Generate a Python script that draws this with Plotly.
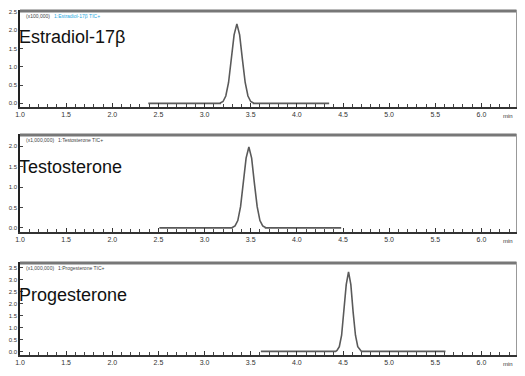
import plotly.graph_objects as go

# ---- data ----
x_ticks = [1.0, 1.5, 2.0, 2.5, 3.0, 3.5, 4.0, 4.5, 5.0, 5.5, 6.0]
x_tick_labels = ["1.0", "1.5", "2.0", "2.5", "3.0", "3.5", "4.0", "4.5", "5.0", "5.5", "6.0"]

e2_rt = [2.39, 3.17, 3.17, 3.20, 3.23, 3.26, 3.29, 3.32, 3.35, 3.38, 3.41, 3.44, 3.47, 3.50, 3.53, 3.53, 4.35]
e2_int = [0.0, 0.0, 0.01, 0.05, 0.20, 0.57, 1.20, 1.87, 2.17, 1.87, 1.20, 0.57, 0.20, 0.05, 0.01, 0.0, 0.0]

t_rt = [2.51, 3.30, 3.30, 3.33, 3.36, 3.39, 3.42, 3.45, 3.48, 3.51, 3.54, 3.57, 3.60, 3.63, 3.66, 3.66, 4.48]
t_int = [0.0, 0.0, 0.01, 0.05, 0.18, 0.52, 1.09, 1.71, 1.98, 1.71, 1.09, 0.52, 0.18, 0.05, 0.01, 0.0, 0.0]

p_rt = [3.61, 4.42, 4.435, 4.46, 4.485, 4.51, 4.535, 4.56, 4.585, 4.61, 4.635, 4.66, 4.685, 4.70, 5.61]
p_int = [0.0, 0.0, 0.04, 0.20, 0.68, 1.64, 2.80, 3.34, 2.80, 1.64, 0.68, 0.20, 0.04, 0.0, 0.0]

names = ["Estradiol-17β", "Testosterone", "Progesterone"]
headers = ["1:Estradiol-17β TIC+", "1:Testosterone TIC+", "1:Progesterone TIC+"]
scales = ["(x100,000)", "(x1,000,000)", "(x1,000,000)"]
y_ticks = [
    [0.0, 0.5, 1.0, 1.5, 2.0, 2.5],
    [0.0, 0.5, 1.0, 1.5, 2.0],
    [0.0, 0.5, 1.0, 1.5, 2.0, 2.5, 3.0, 3.5],
]

# page body has an 8px margin: lay the figure out in window pixels minus that offset
OFF = 8
W, H = 525 - 2 * OFF, 376 - 2 * OFF
def px(p):
    return (p - OFF) / W
def py(p):
    return 1 - (p - OFF) / H

panels = [(10, 107), (134, 232), (262, 355)]
y_ranges = [[-0.1, 2.55], [-0.1, 2.3], [-0.15, 3.75]]
x_dom = [px(20), px(516.5)]

fig = go.Figure()
series = [(e2_rt, e2_int), (t_rt, t_int), (p_rt, p_int)]
for i, (xs, ys) in enumerate(series):
    sfx = "" if i == 0 else str(i + 1)
    fig.add_trace(go.Scatter(x=xs, y=ys, mode="lines",
                             line=dict(color="#5a5a5a", width=1.6),
                             xaxis="x" + sfx, yaxis="y" + sfx, showlegend=False))

layout = dict(width=W, height=H, margin=dict(l=0, r=0, t=0, b=0, autoexpand=False),
              paper_bgcolor="white", plot_bgcolor="white",
              font=dict(family="Liberation Sans", color="#333"))
shapes = []
annotations = []
for i, (top, bot) in enumerate(panels):
    sfx = "" if i == 0 else str(i + 1)
    layout["xaxis" + sfx] = dict(
        domain=x_dom, anchor="y" + sfx, range=[1.0, 6.38], automargin=False,
        tickvals=x_ticks, ticktext=x_tick_labels,
        tickfont=dict(size=7, color="#333"),
        ticks="inside", ticklen=4, tickcolor="#333",
        minor=dict(dtick=0.1, tick0=1.0, ticks="inside", ticklen=3, tickcolor="#444"),
        showline=True, linecolor="#333", linewidth=1.5,
        showgrid=False, zeroline=False, fixedrange=True)
    layout["yaxis" + sfx] = dict(
        domain=[py(bot), py(top)], anchor="x" + sfx, range=y_ranges[i], automargin=False,
        tickvals=y_ticks[i], ticktext=[f"{v:.1f}" for v in y_ticks[i]],
        tickfont=dict(size=6, color="#333"),
        ticks="inside", ticklen=3, tickcolor="#444",
        showline=True, linecolor="#222", linewidth=1.5,
        showgrid=False, zeroline=False, fixedrange=True)
    # frame: thick gray top, thin right
    shapes.append(dict(type="line", xref="paper", yref="paper",
                       x0=x_dom[0], x1=x_dom[1], y0=py(top + 1), y1=py(top + 1),
                       line=dict(color="#777", width=3)))
    shapes.append(dict(type="line", xref="paper", yref="paper",
                       x0=x_dom[1], x1=x_dom[1], y0=py(bot), y1=py(top),
                       line=dict(color="#999", width=1)))
    # header text
    annotations.append(dict(xref="paper", yref="paper", x=px(24), y=py(top + 6),
                            xanchor="left", yanchor="middle", showarrow=False,
                            text=scales[i], font=dict(size=5, color="#444")))
    annotations.append(dict(xref="paper", yref="paper", x=px(24 + 28 + (4 if i else 0)), y=py(top + 6),
                            xanchor="left", yanchor="middle", showarrow=False,
                            text=headers[i],
                            font=dict(size=5, color="#29a8e0" if i == 0 else "#444")))
    # big compound name
    annotations.append(dict(xref="paper", yref="paper", x=px(17), y=py(top + 27 + (6 if i else 0)),
                            xanchor="left", yanchor="middle", showarrow=False,
                            text=names[i], font=dict(size=18, color="#111",
                                                      family="Liberation Sans Narrow, Liberation Sans")))
    # min label
    annotations.append(dict(xref="paper", yref="paper", x=px(515), y=py(bot + 9),
                            xanchor="right", yanchor="middle", showarrow=False,
                            text="min", font=dict(size=6, color="#333")))

layout["shapes"] = shapes
layout["annotations"] = annotations
fig.update_layout(**layout)
fig.write_html("out.html")
